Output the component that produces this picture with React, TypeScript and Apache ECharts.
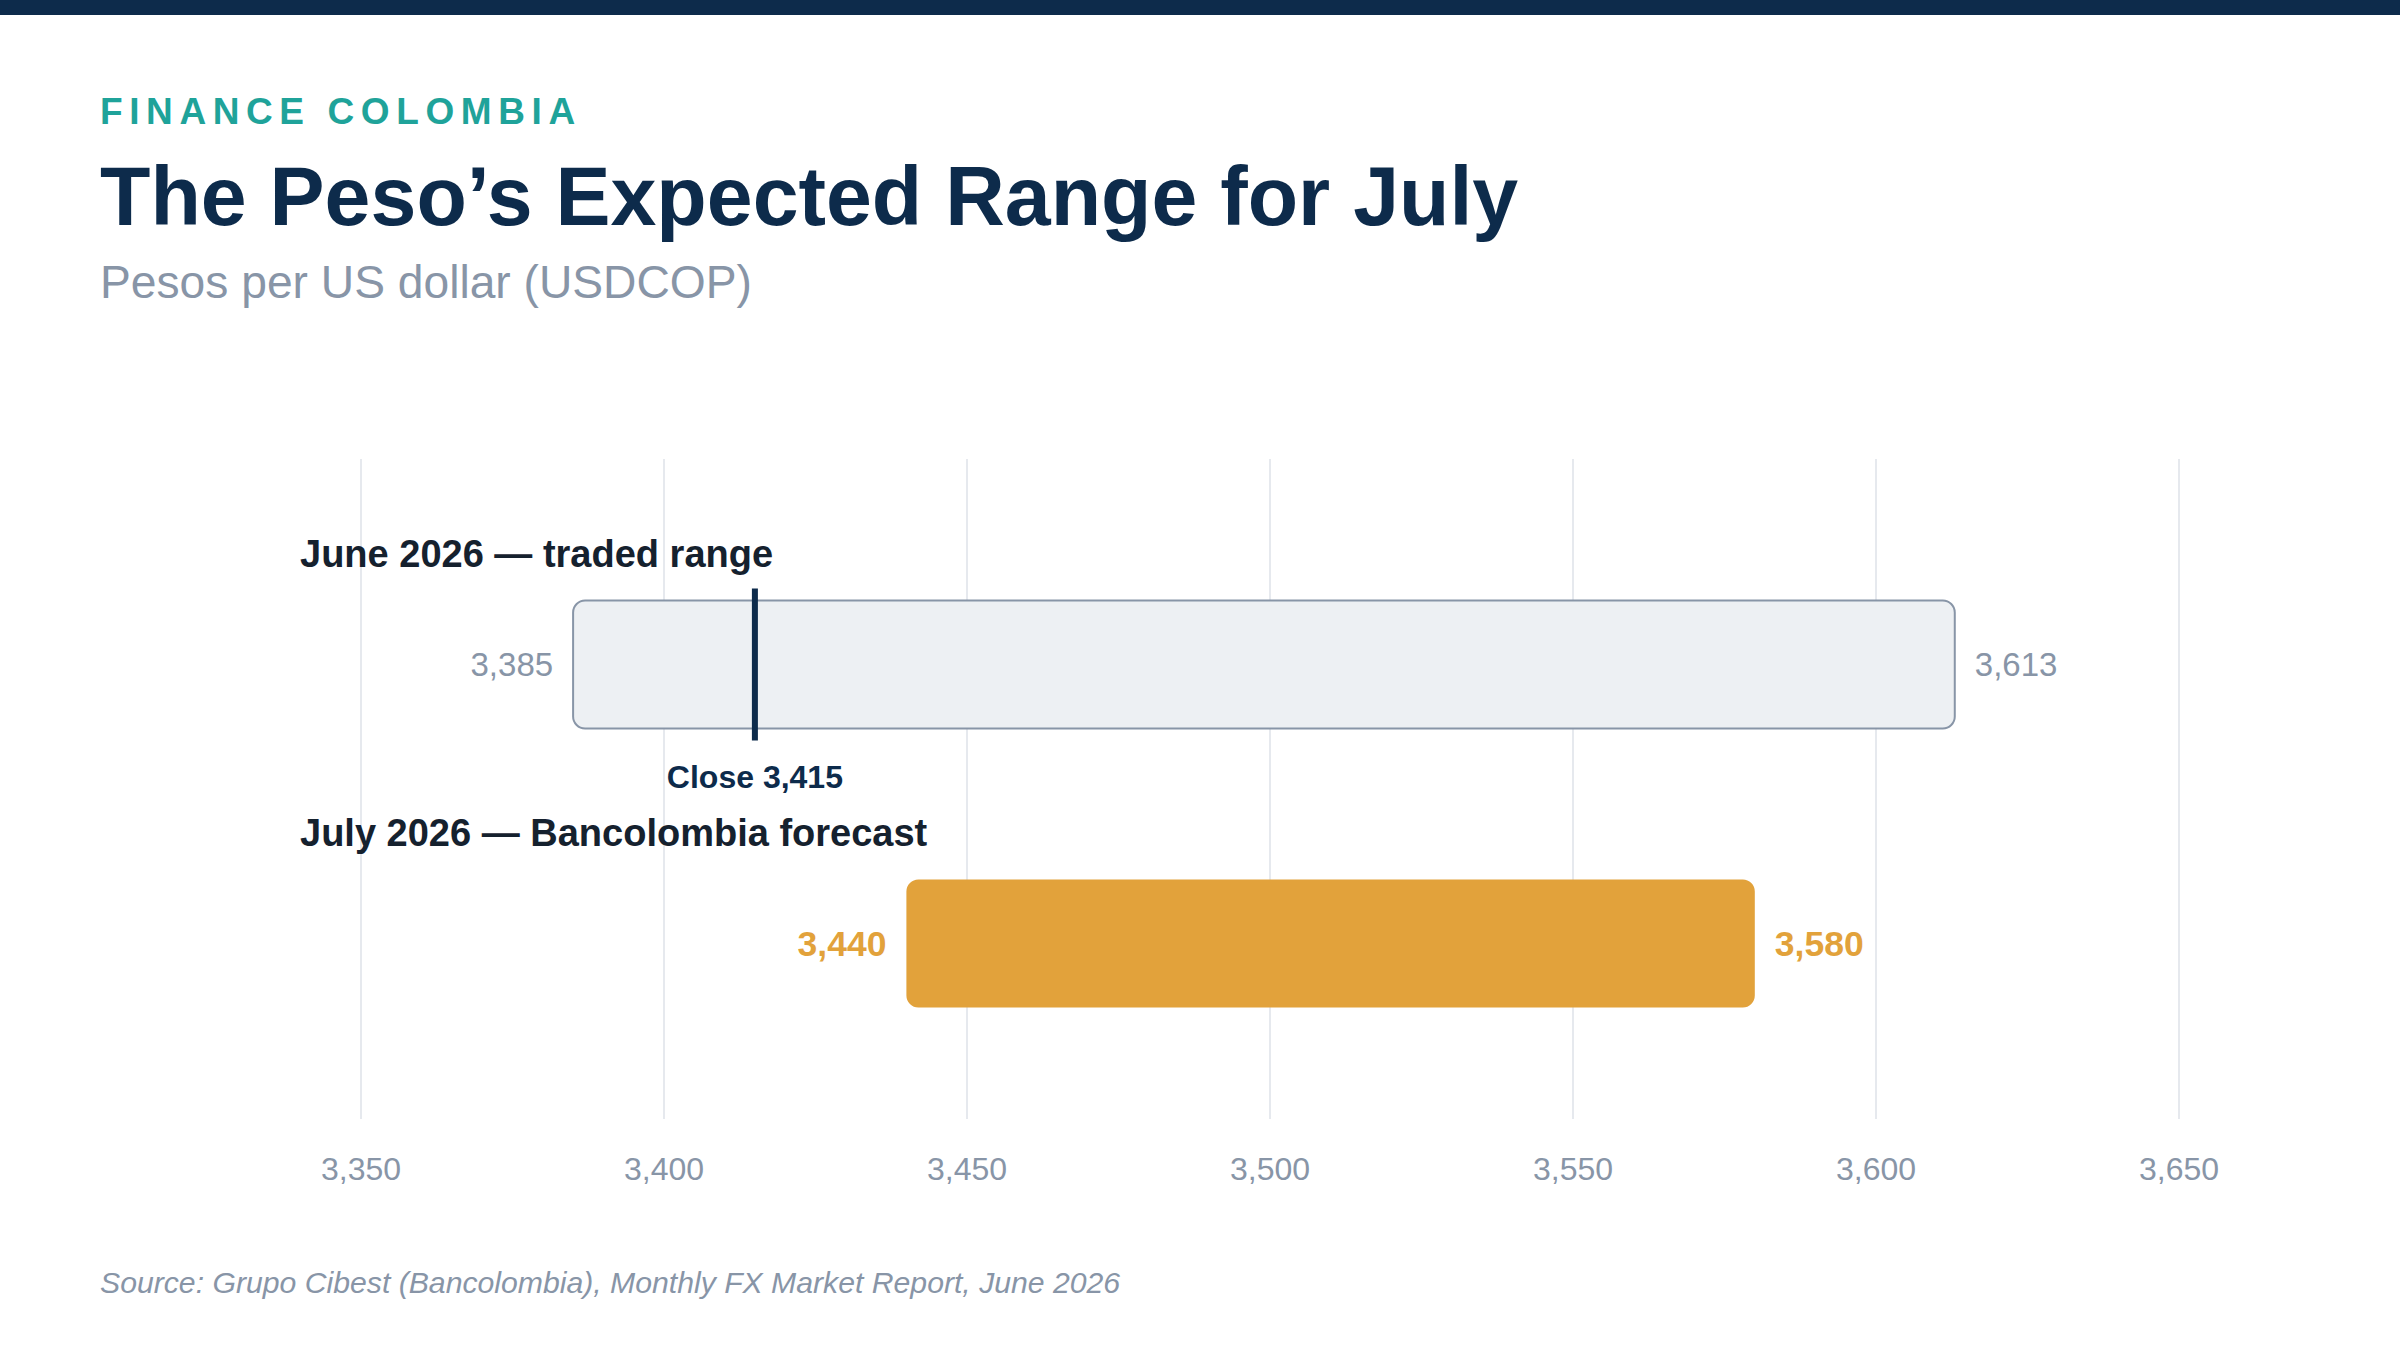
import React, { useEffect, useRef } from "react";
import * as echarts from "echarts";

const rowLabels = ["June 2026 — traded range", "July 2026 — Bancolombia forecast"];
const rangeLow = [3385, 3440];
const rangeHigh = [3613, 3580];
const closeRow = 0;
const closeValue = 3415;
const axisMin = 3350;
const axisMax = 3650;
const axisStep = 50;

const FONT = "'Liberation Sans', Arial, Helvetica, sans-serif";
const NAVY = "#0d2b4b";
const GRAY = "#8895a7";
const ORANGE = "#e2a23b";
const INK = "#15212e";

const fmt = (v: number) => v.toLocaleString("en-US");
// y for a "middle"-aligned text so that its alphabetic baseline sits at b
const mid = (b: number, fs: number) => b - 0.3465 * fs;

export default function App() {
  const ref = useRef<HTMLDivElement>(null);
  useEffect(() => {
    document.body.style.margin = "0";
    if (!ref.current) return;
    const chart = echarts.init(ref.current, null, { renderer: "svg" });
    const BAR_H = 128;
    const option: any = {
      animation: false,
      backgroundColor: "#ffffff",
      textStyle: { fontFamily: FONT },
      grid: { left: 361, right: 221, top: 459, bottom: 231, containLabel: false },
      xAxis: {
        type: "value",
        min: axisMin,
        max: axisMax,
        interval: axisStep,
        axisLine: { show: false },
        axisTick: { show: false },
        splitLine: { show: true, lineStyle: { color: "#e6e9ee", width: 2 } },
        axisLabel: {
          color: GRAY,
          fontSize: 32,
          fontFamily: FONT,
          margin: 34,
          formatter: (v: number) => fmt(v),
        },
      },
      yAxis: {
        type: "value",
        inverse: true,
        min: -0.7366,
        max: 1.629,
        show: false,
        splitLine: { show: false },
      },
      graphic: [
        { type: "rect", left: 0, top: 0, shape: { x: 0, y: 0, width: 2400, height: 15 }, style: { fill: NAVY } },
        {
          type: "text",
          x: 100,
          y: mid(124, 37),
          style: {
            text: "FINANCE COLOMBIA",
            fill: "#1fa39a",
            font: `bold 37px ${FONT}`,
            verticalAlign: "middle",
          },
        },
        {
          type: "text",
          x: 100,
          y: mid(225, 82.5),
          style: {
            text: "The Peso’s Expected Range for July",
            fill: NAVY,
            font: `bold 82.5px ${FONT}`,
            verticalAlign: "middle",
          },
        },
        {
          type: "text",
          x: 100,
          y: mid(298, 46.2),
          style: {
            text: "Pesos per US dollar (USDCOP)",
            fill: GRAY,
            font: `46.2px ${FONT}`,
            verticalAlign: "middle",
          },
        },
        {
          type: "text",
          x: 100,
          y: mid(1293, 30.2),
          style: {
            text: "Source: Grupo Cibest (Bancolombia), Monthly FX Market Report, June 2026",
            fill: GRAY,
            font: `italic 30.2px ${FONT}`,
            verticalAlign: "middle",
          },
        },
      ],
      series: [
        {
          type: "custom",
          coordinateSystem: "cartesian2d",
          data: rowLabels.map((_, i) => [i, rangeLow[i], rangeHigh[i]]),
          renderItem: (params: any, api: any) => {
            const i = api.value(0);
            const lo = api.value(1);
            const hi = api.value(2);
            const p0 = api.coord([lo, i]);
            const p1 = api.coord([hi, i]);
            const cy = p0[1];
            const isForecast = i === 1;
            const gridLeft = params.coordSys.x;
            const endFs = isForecast ? 35.5 : 33;
            return {
              type: "group",
              children: [
                {
                  type: "rect",
                  shape: { x: p0[0], y: cy - BAR_H / 2, width: p1[0] - p0[0], height: BAR_H, r: 12 },
                  style: isForecast
                    ? { fill: ORANGE }
                    : { fill: "#edf0f3", stroke: GRAY, lineWidth: 2 },
                },
                {
                  type: "text",
                  x: gridLeft - 61,
                  y: mid(cy - 97, 38),
                  style: {
                    text: rowLabels[i],
                    fill: INK,
                    font: `bold 38px ${FONT}`,
                    verticalAlign: "middle",
                    align: "left",
                  },
                },
                {
                  type: "text",
                  x: p0[0] - 20,
                  y: cy,
                  style: {
                    text: fmt(lo),
                    fill: isForecast ? ORANGE : GRAY,
                    font: `${isForecast ? "bold " : ""}${endFs}px ${FONT}`,
                    align: "right",
                    verticalAlign: "middle",
                  },
                },
                {
                  type: "text",
                  x: p1[0] + 20,
                  y: cy,
                  style: {
                    text: fmt(hi),
                    fill: isForecast ? ORANGE : GRAY,
                    font: `${isForecast ? "bold " : ""}${endFs}px ${FONT}`,
                    align: "left",
                    verticalAlign: "middle",
                  },
                },
              ],
            };
          },
        },
        {
          type: "custom",
          coordinateSystem: "cartesian2d",
          data: [[closeRow, closeValue]],
          renderItem: (params: any, api: any) => {
            const p = api.coord([api.value(1), api.value(0)]);
            return {
              type: "group",
              children: [
                {
                  type: "line",
                  shape: { x1: p[0], y1: p[1] - 76, x2: p[0], y2: p[1] + 76 },
                  style: { stroke: NAVY, lineWidth: 6 },
                },
                {
                  type: "text",
                  x: p[0],
                  y: mid(p[1] + 124, 32),
                  style: {
                    text: "Close " + fmt(api.value(1)),
                    fill: NAVY,
                    font: `bold 32px ${FONT}`,
                    align: "center",
                    verticalAlign: "middle",
                  },
                },
              ],
            };
          },
        },
      ],
    };
    chart.setOption(option);
    const applySpacing = () => {
      ref.current?.querySelectorAll("text").forEach((t) => {
        if (t.textContent === "FINANCE COLOMBIA") t.setAttribute("letter-spacing", "6.6");
      });
    };
    applySpacing();
    chart.on("finished", applySpacing);
    return () => chart.dispose();
  }, []);
  return <div ref={ref} style={{ width: 2400, height: 1350 }} />;
}
